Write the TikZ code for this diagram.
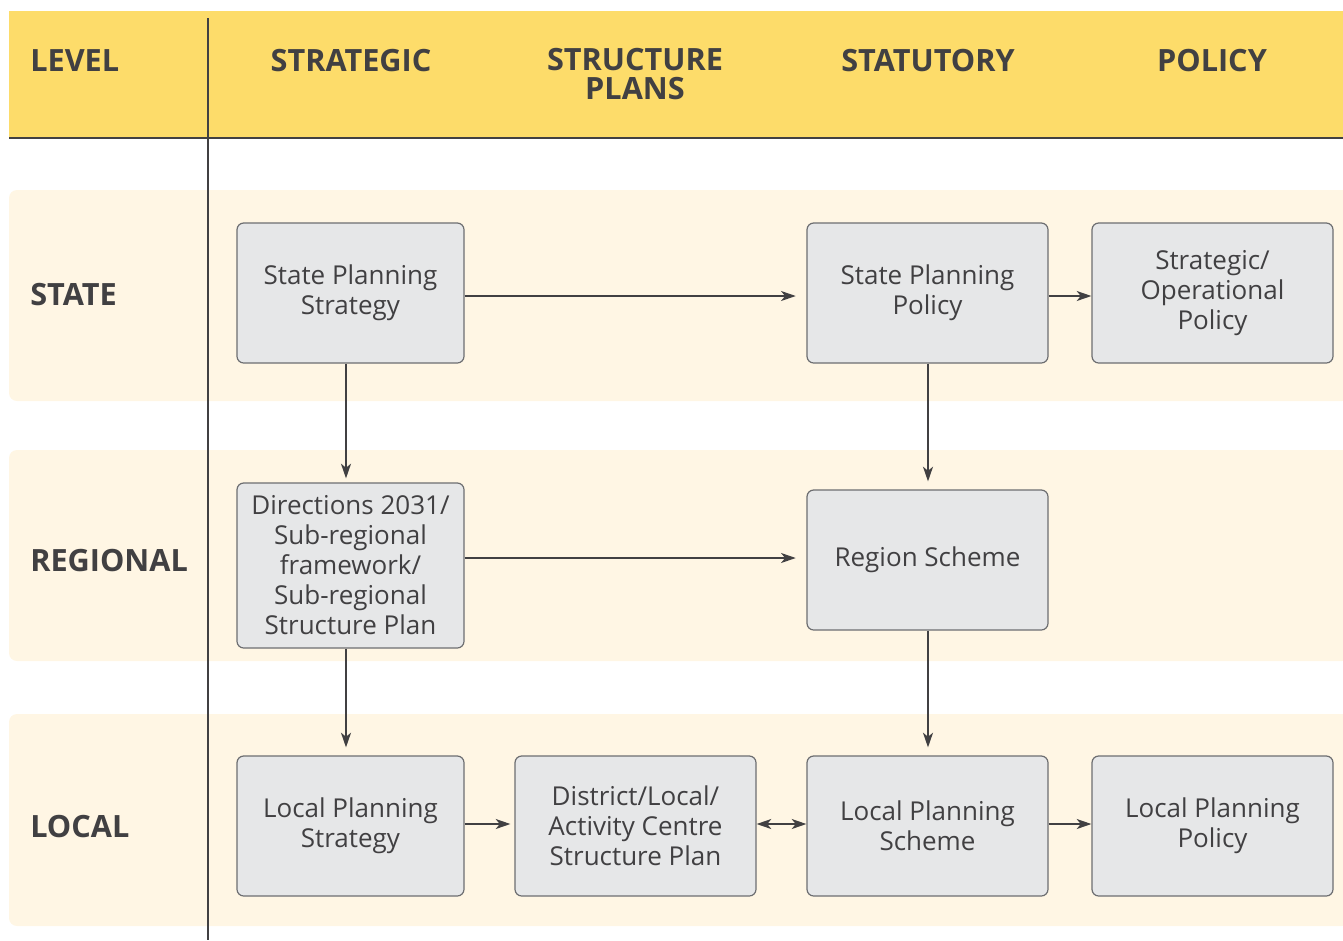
\documentclass[tikz,border=0pt]{standalone}
\usepackage{fontspec}
\setmainfont{Open Sans}
\usetikzlibrary{arrows.meta}
\definecolor{hdr}{HTML}{FDDC6A}
\definecolor{band}{HTML}{FFF6E4}
\definecolor{boxfill}{HTML}{E6E7E8}
\definecolor{boxline}{HTML}{6D6E71}
\definecolor{ink}{HTML}{414042}
\begin{document}
\begin{tikzpicture}[x=0.75pt,y=-0.75pt,
  pbox/.style={draw=boxline,line width=0.9pt,fill=boxfill,rounded corners=5pt,
    text=ink,align=center,font=\fontsize{19.5}{22.5}\selectfont,inner sep=0pt},
  hd/.style={text=ink,font=\bfseries\fontsize{23}{21.75}\selectfont,align=center,inner sep=0pt},
  conn/.style={draw=ink,line width=1.1pt,-{Stealth[length=11pt,width=7.5pt,inset=3pt]}},
  conn2/.style={draw=ink,line width=1.1pt,{Stealth[length=11pt,width=7.5pt,inset=3pt]}-{Stealth[length=11pt,width=7.5pt,inset=3pt]}}]
\useasboundingbox (0,0) rectangle (1343,940);
% header
\fill[hdr] (9,11) rectangle (1343,138);
% bands
\fill[band,rounded corners=6pt] (9,190) rectangle (1350,401);
\fill[band,rounded corners=6pt] (9,450) rectangle (1350,661);
\fill[band,rounded corners=6pt] (9,714) rectangle (1350,926);
\draw[ink,line width=1.6pt] (9,138) -- (1343,138);
\draw[ink,line width=1.6pt] (208,18) -- (208,940);
% headings
\node[hd,anchor=west] (hlevel) at (30,61) {LEVEL};
\node[hd] (hstrat) at (351,61) {STRATEGIC};
\node[hd] (hstruct) at (635,74) {STRUCTURE\\PLANS};
\node[hd] (hstat) at (928,61) {STATUTORY};
\node[hd] (hpol) at (1212,61) {POLICY};
\node[hd,anchor=west] (lstate) at (30,295) {STATE};
\node[hd,anchor=west] (lreg) at (30,561) {REGIONAL};
\node[hd,anchor=west] (lloc) at (30,827) {LOCAL};
% boxes
\node[pbox,minimum width=227*0.75pt,minimum height=140*0.75pt] (sps) at (350.5,293) {State Planning\\Strategy};
\node[pbox,minimum width=241*0.75pt,minimum height=140*0.75pt] (spp) at (927.5,293) {State Planning\\Policy};
\node[pbox,minimum width=241*0.75pt,minimum height=140*0.75pt] (sop) at (1212.5,293) {Strategic/\\Operational\\Policy};
\node[pbox,minimum width=227*0.75pt,minimum height=165*0.75pt] (dir) at (350.5,565.5) {Directions 2031/\\Sub-regional\\framework/\\Sub-regional\\Structure Plan};
\node[pbox,minimum width=241*0.75pt,minimum height=140*0.75pt] (rs) at (927.5,560) {Region Scheme};
\node[pbox,minimum width=227*0.75pt,minimum height=140*0.75pt] (lps) at (350.5,826) {Local Planning\\Strategy};
\node[pbox,minimum width=241*0.75pt,minimum height=140*0.75pt] (dsp) at (635.5,826) {District/Local/\\Activity Centre\\Structure Plan};
\node[pbox,minimum width=241*0.75pt,minimum height=140*0.75pt] (lsc) at (927.5,826) {Local Planning\\Scheme};
\node[pbox,minimum width=241*0.75pt,minimum height=140*0.75pt] (lpp) at (1212.5,826) {Local Planning\\Policy};
% connectors
\draw[conn] (sps.east |- 0,296) -- ([xshift=-8pt]spp.west |- 0,296);
\draw[conn] (spp.east |- 0,296) -- (sop.west |- 0,296);
\draw[conn] (346,0 |- sps.south) -- ([yshift=3pt]346,0 |- dir.north);
\draw[conn] (928,0 |- spp.south) -- ([yshift=6pt]928,0 |- rs.north);
\draw[conn] (dir.east |- 0,558) -- ([xshift=-8pt]rs.west |- 0,558);
\draw[conn] (346,0 |- dir.south) -- ([yshift=6pt]346,0 |- lps.north);
\draw[conn] (928,0 |- rs.south) -- ([yshift=6pt]928,0 |- lsc.north);
\draw[conn] (lps.east |- 0,824) -- ([xshift=-3pt]dsp.west |- 0,824);
\draw[conn2] (dsp.east |- 0,824) -- (lsc.west |- 0,824);
\draw[conn] (lsc.east |- 0,824) -- (lpp.west |- 0,824);
\end{tikzpicture}
\end{document}
